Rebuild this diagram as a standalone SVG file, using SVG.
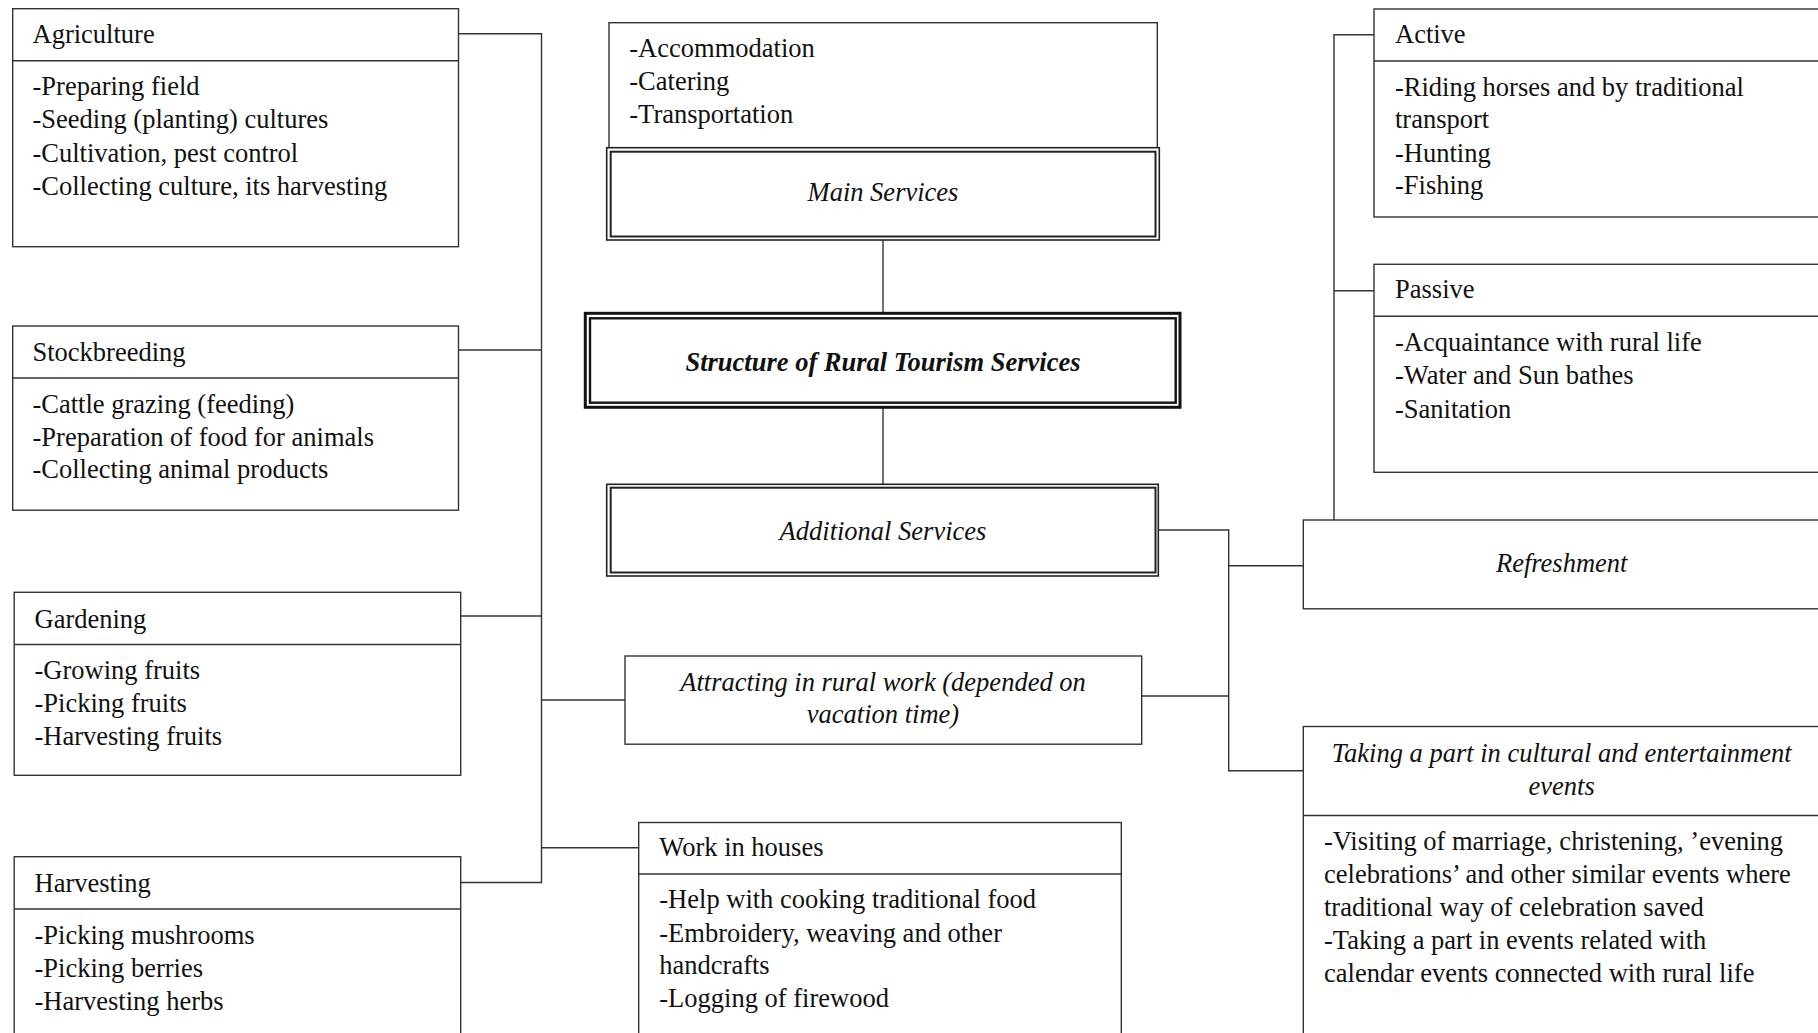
<svg xmlns="http://www.w3.org/2000/svg" width="1818" height="1033" viewBox="0 0 1818 1033">
<style>
text{font-family:"Liberation Serif","Times New Roman",serif;font-size:26.5px;fill:#111}
.it{font-style:italic}
.bi{font-style:italic;font-weight:bold}
.c{text-anchor:middle}
.box{fill:#fff;stroke:#333;stroke-width:1.4}
.div{stroke:#333;stroke-width:1.4;fill:none}
.dbo{fill:#fff;stroke:#222;stroke-width:1.6}
.dbi{fill:none;stroke:#222;stroke-width:2}
.sto{fill:#fff;stroke:#111;stroke-width:3}
.sti{fill:none;stroke:#111;stroke-width:2.4}
.con line{stroke:#333;stroke-width:1.4}
</style>
<rect width="1818" height="1033" fill="#fff"/>
<g id="connectors" class="con">
<line x1="458.5" y1="33.7" x2="541.5" y2="33.7"/>
<line x1="541.5" y1="33" x2="541.5" y2="883.2"/>
<line x1="458.5" y1="350" x2="541.5" y2="350"/>
<line x1="460.7" y1="616" x2="541.5" y2="616"/>
<line x1="460.7" y1="882.5" x2="541.5" y2="882.5"/>
<line x1="541.5" y1="700" x2="625" y2="700"/>
<line x1="541.5" y1="847.7" x2="638.7" y2="847.7"/>
<line x1="883" y1="240" x2="883" y2="313.3"/>
<line x1="883" y1="407.3" x2="883" y2="484.3"/>
<line x1="1158.3" y1="530" x2="1228.7" y2="530"/>
<line x1="1228.7" y1="529.3" x2="1228.7" y2="771.4"/>
<line x1="1228.7" y1="565.7" x2="1303.3" y2="565.7"/>
<line x1="1141.7" y1="696" x2="1228.7" y2="696"/>
<line x1="1228.7" y1="770.7" x2="1303.3" y2="770.7"/>
<line x1="1334" y1="34" x2="1334" y2="520"/>
<line x1="1334" y1="34.7" x2="1374" y2="34.7"/>
<line x1="1334" y1="290.7" x2="1374" y2="290.7"/>
</g>
<g id="agriculture">
<rect class="box" x="12.7" y="8.7" width="445.8" height="238"/>
<line class="div" x1="12.7" y1="60.7" x2="458.5" y2="60.7"/>
<text x="32.5" y="43">Agriculture</text>
<text x="32.5" y="95">-Preparing field</text>
<text x="32.5" y="128.3">-Seeding (planting) cultures</text>
<text x="32.5" y="161.5">-Cultivation, pest control</text>
<text x="32.5" y="194.7">-Collecting culture, its harvesting</text>
</g>
<g id="stockbreeding">
<rect class="box" x="12.7" y="326" width="445.8" height="184.2"/>
<line class="div" x1="12.7" y1="378" x2="458.5" y2="378"/>
<text x="32.5" y="361">Stockbreeding</text>
<text x="32.5" y="413.3">-Cattle grazing (feeding)</text>
<text x="32.5" y="445.7">-Preparation of food for animals</text>
<text x="32.5" y="478.3">-Collecting animal products</text>
</g>
<g id="gardening">
<rect class="box" x="14.2" y="592.3" width="446.5" height="183"/>
<line class="div" x1="14.2" y1="644.5" x2="460.7" y2="644.5"/>
<text x="34.5" y="627.7">Gardening</text>
<text x="34.5" y="678.8">-Growing fruits</text>
<text x="34.5" y="712">-Picking fruits</text>
<text x="34.5" y="745">-Harvesting fruits</text>
</g>
<g id="harvesting">
<rect class="box" x="14.2" y="856.7" width="446.5" height="190"/>
<line class="div" x1="14.2" y1="909" x2="460.7" y2="909"/>
<text x="34.5" y="891.7">Harvesting</text>
<text x="34.5" y="943.8">-Picking mushrooms</text>
<text x="34.5" y="976.8">-Picking berries</text>
<text x="34.5" y="1009.9">-Harvesting herbs</text>
</g>
<g id="main-list">
<rect class="box" x="609" y="22.7" width="548.3" height="125"/>
<text x="629.3" y="57">-Accommodation</text>
<text x="629.3" y="90">-Catering</text>
<text x="629.3" y="123">-Transportation</text>
</g>
<g id="main-services">
<rect class="dbo" x="606.7" y="147.7" width="552.6" height="92.3"/>
<rect class="dbi" x="610.7" y="151.7" width="544.8" height="84.8"/>
<text class="it c" x="883" y="201">Main Services</text>
</g>
<g id="structure">
<rect class="sto" x="585.3" y="313.3" width="594.7" height="94"/>
<rect class="sti" x="590" y="318.3" width="585.7" height="84.4"/>
<text class="bi c" x="883" y="370.5">Structure of Rural Tourism Services</text>
</g>
<g id="additional-services">
<rect class="dbo" x="606.7" y="484.3" width="551.6" height="91.7"/>
<rect class="dbi" x="610.7" y="487.7" width="544.8" height="84.8"/>
<text class="it c" x="883" y="539.6">Additional Services</text>
</g>
<g id="attracting">
<rect class="box" x="625" y="656" width="516.7" height="88.2"/>
<text class="it c" x="883" y="690.7">Attracting in rural work (depended on</text>
<text class="it c" x="883" y="723.3">vacation time)</text>
</g>
<g id="work-in-houses">
<rect class="box" x="638.7" y="822.5" width="482.6" height="225"/>
<line class="div" x1="638.7" y1="874" x2="1121.3" y2="874"/>
<text x="659.3" y="856">Work in houses</text>
<text x="659.3" y="908.3">-Help with cooking traditional food</text>
<text x="659.3" y="941.5">-Embroidery, weaving and other</text>
<text x="659.3" y="974">handcrafts</text>
<text x="659.3" y="1007">-Logging of firewood</text>
</g>
<g id="active">
<rect class="box" x="1374" y="9" width="460" height="208"/>
<line class="div" x1="1374" y1="61" x2="1834" y2="61"/>
<text x="1395" y="43.3">Active</text>
<text x="1395" y="95.7">-Riding horses and by traditional</text>
<text x="1395" y="128.3">transport</text>
<text x="1395" y="161.7">-Hunting</text>
<text x="1395" y="194.3">-Fishing</text>
</g>
<g id="passive">
<rect class="box" x="1374" y="264.3" width="460" height="208"/>
<line class="div" x1="1374" y1="316.3" x2="1834" y2="316.3"/>
<text x="1395" y="297.7">Passive</text>
<text x="1395" y="351">-Acquaintance with rural life</text>
<text x="1395" y="383.5">-Water and Sun bathes</text>
<text x="1395" y="417.5">-Sanitation</text>
</g>
<g id="refreshment">
<rect class="box" x="1303.3" y="520" width="516.7" height="88.8"/>
<text class="it c" x="1561.7" y="572">Refreshment</text>
</g>
<g id="taking-part">
<rect class="box" x="1303.3" y="726.5" width="530" height="330"/>
<line class="div" x1="1303.3" y1="815.5" x2="1833.3" y2="815.5"/>
<text class="it c" x="1561.7" y="762.3">Taking a part in cultural and entertainment</text>
<text class="it c" x="1561.7" y="794.7">events</text>
<text x="1324" y="849.7">-Visiting of marriage, christening, ’evening</text>
<text x="1324" y="883">celebrations’ and other similar events where</text>
<text x="1324" y="916">traditional way of celebration saved</text>
<text x="1324" y="949">-Taking a part in events related with</text>
<text x="1324" y="982.3">calendar events connected with rural life</text>
</g>
</svg>
